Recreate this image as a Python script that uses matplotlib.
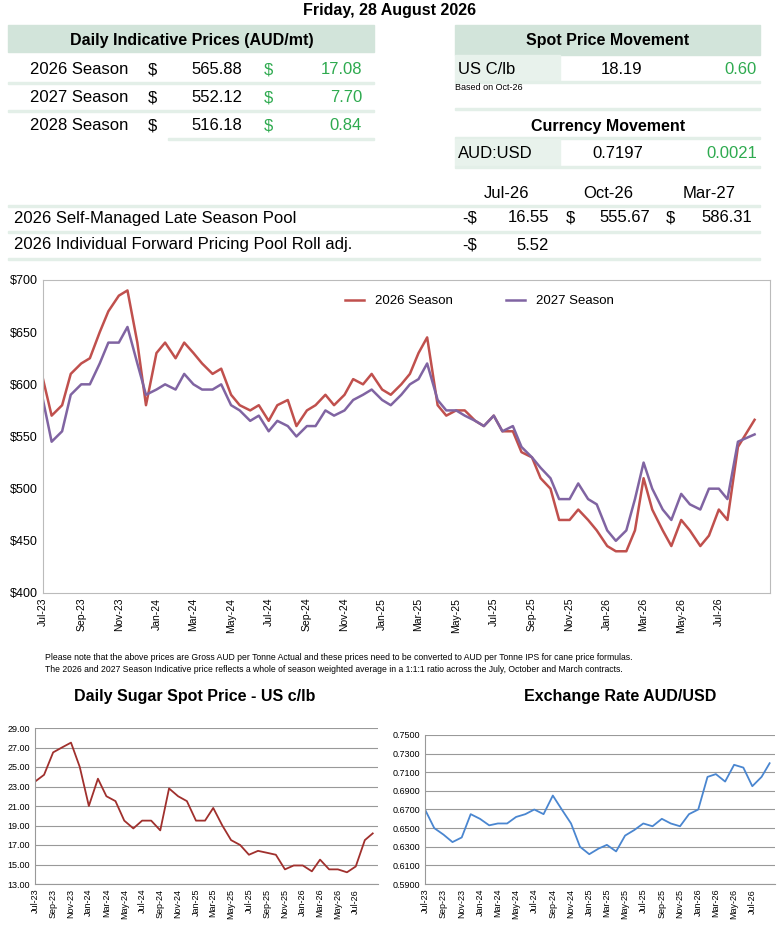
import matplotlib
matplotlib.use("Agg")
import matplotlib.pyplot as plt
import matplotlib.dates as mdates
from matplotlib.patches import Rectangle
import pandas as pd

plt.rcParams['font.family'] = ['Liberation Sans', 'DejaVu Sans']

# ---------------- data ----------------
season_2026 = [605, 570, 580, 610, 620, 625, 650, 670, 685, 690, 640, 580, 630, 640, 625, 640,
               630, 620, 610, 615, 590, 580, 575, 580, 565, 580, 585, 560, 575, 580, 590, 580,
               590, 605, 600, 610, 595, 590, 600, 610, 630, 645, 580, 570, 575, 575, 565, 560,
               570, 555, 555, 535, 530, 510, 500, 470, 470, 480, 470, 460, 445, 440, 440, 460,
               510, 480, 460, 445, 470, 460, 445, 455, 480, 470, 540, 566]
season_2027 = [585, 545, 555, 590, 600, 600, 620, 640, 640, 655, 620, 590, 595, 600, 595, 610,
               600, 595, 595, 600, 580, 575, 565, 570, 555, 565, 560, 550, 560, 560, 575, 570,
               575, 585, 590, 595, 585, 580, 590, 600, 605, 620, 585, 575, 575, 570, 565, 560,
               570, 555, 560, 540, 530, 520, 510, 490, 490, 505, 490, 485, 460, 450, 460, 490,
               525, 500, 480, 470, 495, 485, 480, 500, 500, 490, 545, 552]
sugar = [23.5, 24.2, 26.5, 27.0, 27.5, 25.0, 21.0, 23.8, 22.0, 21.5, 19.5, 18.7, 19.5, 19.5,
         18.5, 22.8, 22.0, 21.5, 19.5, 19.5, 20.8, 19.0, 17.5, 17.0, 16.0, 16.4, 16.2, 16.0,
         14.5, 14.9, 14.9, 14.3, 15.5, 14.5, 14.5, 14.2, 14.8, 17.5, 18.19]
audusd = [0.670, 0.650, 0.643, 0.635, 0.640, 0.665, 0.660, 0.653, 0.655, 0.655, 0.662, 0.665,
          0.670, 0.665, 0.685, 0.670, 0.655, 0.630, 0.622, 0.628, 0.632, 0.625, 0.642, 0.648,
          0.655, 0.652, 0.660, 0.655, 0.652, 0.665, 0.670, 0.705, 0.708, 0.700, 0.718, 0.715,
          0.695, 0.705, 0.7197]

semi_dates = pd.date_range("2023-07-01", periods=len(season_2026), freq="SMS")
semi_dates = semi_dates[:-1].append(pd.DatetimeIndex(["2026-08-28"]))
month_dates = pd.date_range("2023-07-01", periods=len(sugar) - 1, freq="MS").append(pd.DatetimeIndex(["2026-08-28"]))
tick_dates = pd.date_range("2023-07-01", "2026-07-01", freq="2MS")

daily_rows = [("2026 Season", "565.88", "17.08"), ("2027 Season", "552.12", "7.70"), ("2028 Season", "516.18", "0.84")]
pool_cols = ["Jul-26", "Oct-26", "Mar-27"]

W, H = 777, 926
fig = plt.figure(figsize=(W / 100, H / 100), dpi=100)
GREEN = "#2eaa4f"
HDR = "#d2e4da"
LINE = "#e3efe8"

def Y(py): return 1 - py / H
def X(px): return px / W
def txt(px, py, s, size=12, ha="left", color="black", weight="normal"):
    fig.text(X(px), Y(py), s, fontsize=size, ha=ha, va="center", color=color, weight=weight)
def rect(x0, y0, x1, y1, c):
    fig.patches.append(Rectangle((X(x0), Y(y1)), X(x1) - X(x0), Y(y0) - Y(y1), transform=fig.transFigure, color=c, zorder=0))

txt(390, 11, "Friday, 28 August 2026", 11.5, "center", weight="bold")
rect(8, 25, 374, 52, HDR)
txt(192, 41, "Daily Indicative Prices (AUD/mt)", 11.5, "center", weight="bold")
for i, (name, p, d) in enumerate(daily_rows):
    y = 70 + i * 28
    txt(30, y, name, 12)
    txt(148, y, "$", 12)
    txt(242, y, p, 12, "right")
    txt(264, y, "$", 12, color=GREEN)
    txt(362, y, d, 12, "right", color=GREEN)
    rect(8 if i < 2 else 168, y + 12, 374, y + 14, LINE)
rect(455, 25, 760, 55, HDR)
txt(608, 41, "Spot Price Movement", 11.5, "center", weight="bold")
rect(455, 55, 560, 81, "#e8f2ec")
txt(458, 69, "US C/lb", 12)
txt(622, 69, "18.19", 12, "center")
txt(757, 69, "0.60", 12, "right", color=GREEN)
rect(455, 81, 760, 83, LINE)
txt(455, 88, "Based on Oct-26", 6.5)
rect(455, 108, 760, 110, LINE)
txt(608, 126, "Currency Movement", 11.5, "center", weight="bold")
rect(455, 137, 760, 139, LINE)
rect(455, 139, 560, 166, "#e8f2ec")
txt(458, 154, "AUD:USD", 12)
txt(618, 154, "0.7197", 12, "center")
txt(757, 154, "0.0021", 12, "right", color=GREEN)
rect(455, 166, 760, 168, LINE)
for j, c in enumerate(pool_cols):
    txt([507, 608, 709][j], 193, c, 12, "center")
rect(8, 205, 760, 207, LINE)
txt(14, 218, "2026 Self-Managed Late Season Pool", 12)
txt(462, 218, "-$", 12); txt(549, 218, "16.55", 12, "right")
txt(566, 218, "$", 12); txt(650, 218, "555.67", 12, "right")
txt(666, 218, "$", 12); txt(752, 218, "586.31", 12, "right")
rect(8, 231, 760, 233, LINE)
txt(14, 245, "2026 Individual Forward Pricing Pool Roll adj.", 12)
txt(462, 245, "-$", 12); txt(549, 245, "5.52", 12, "right")
rect(8, 258, 760, 260, LINE)

# ---------------- main chart ----------------
ax = fig.add_axes([X(43), Y(593), X(770) - X(43), Y(280) - Y(593)])
ax.plot(semi_dates, season_2026, color="#c0504d", lw=1.8, label="2026 Season")
ax.plot(semi_dates, season_2027, color="#8064a2", lw=1.8, label="2027 Season")
ax.set_ylim(400, 700)
ax.set_yticks(range(400, 701, 50))
ax.set_yticklabels([f"${v}" for v in range(400, 701, 50)], fontsize=9)
ax.set_xlim(pd.Timestamp("2023-07-01"), pd.Timestamp("2026-09-22"))
ax.set_xticks(tick_dates)
ax.set_xticklabels([d.strftime("%b-%y") for d in tick_dates], rotation=90, fontsize=7.5)
for s in ax.spines.values(): s.set_color("#bbbbbb")
ax.tick_params(length=0)
ax.legend(loc="upper center", bbox_to_anchor=(0.6, 0.99), ncol=2, frameon=False, fontsize=9.5, handlelength=1.5, columnspacing=4)

txt(45, 658, "Please note that the above prices are Gross AUD per Tonne Actual and these prices need to be converted to AUD per Tonne IPS for cane price formulas.", 6.2)
txt(45, 670, "The 2026 and 2027 Season Indicative price reflects a whole of season weighted average in a 1:1:1 ratio across the July, October and March contracts.", 6.2)

def small(axr, vals, color, lo, hi, step, fmt):
    a = fig.add_axes(axr)
    a.plot(month_dates, vals, color=color, lw=1.3)
    a.set_ylim(lo, hi)
    n = int(round((hi - lo) / step)) + 1
    a.set_yticks([lo + k * step for k in range(n)])
    a.set_yticklabels([fmt.format(lo + k * step) for k in range(n)], fontsize=6.5)
    a.set_xlim(pd.Timestamp("2023-07-01"), pd.Timestamp("2026-09-15"))
    a.set_xticks(tick_dates)
    a.set_xticklabels([d.strftime("%b-%y") for d in tick_dates], rotation=90, fontsize=6.5)
    a.grid(axis="y", color="#999999", lw=0.8)
    a.set_axisbelow(True)
    for k in ["top", "right"]: a.spines[k].set_visible(False)
    for k in ["left", "bottom"]: a.spines[k].set_color("#999999")
    a.tick_params(length=0)
    return a

txt(195, 697, "Daily Sugar Spot Price - US c/lb", 11.5, "center", weight="bold")
txt(620, 697, "Exchange Rate AUD/USD", 11.5, "center", weight="bold")
small([X(35), Y(884), X(378) - X(35), Y(728) - Y(884)], sugar, "#a0302d", 13, 29, 2, "{:.2f}")
small([X(425), Y(884), X(775) - X(425), Y(735) - Y(884)], audusd, "#4a86d0", 0.59, 0.75, 0.02, "{:.4f}")

fig.savefig("out.png", dpi=100)
